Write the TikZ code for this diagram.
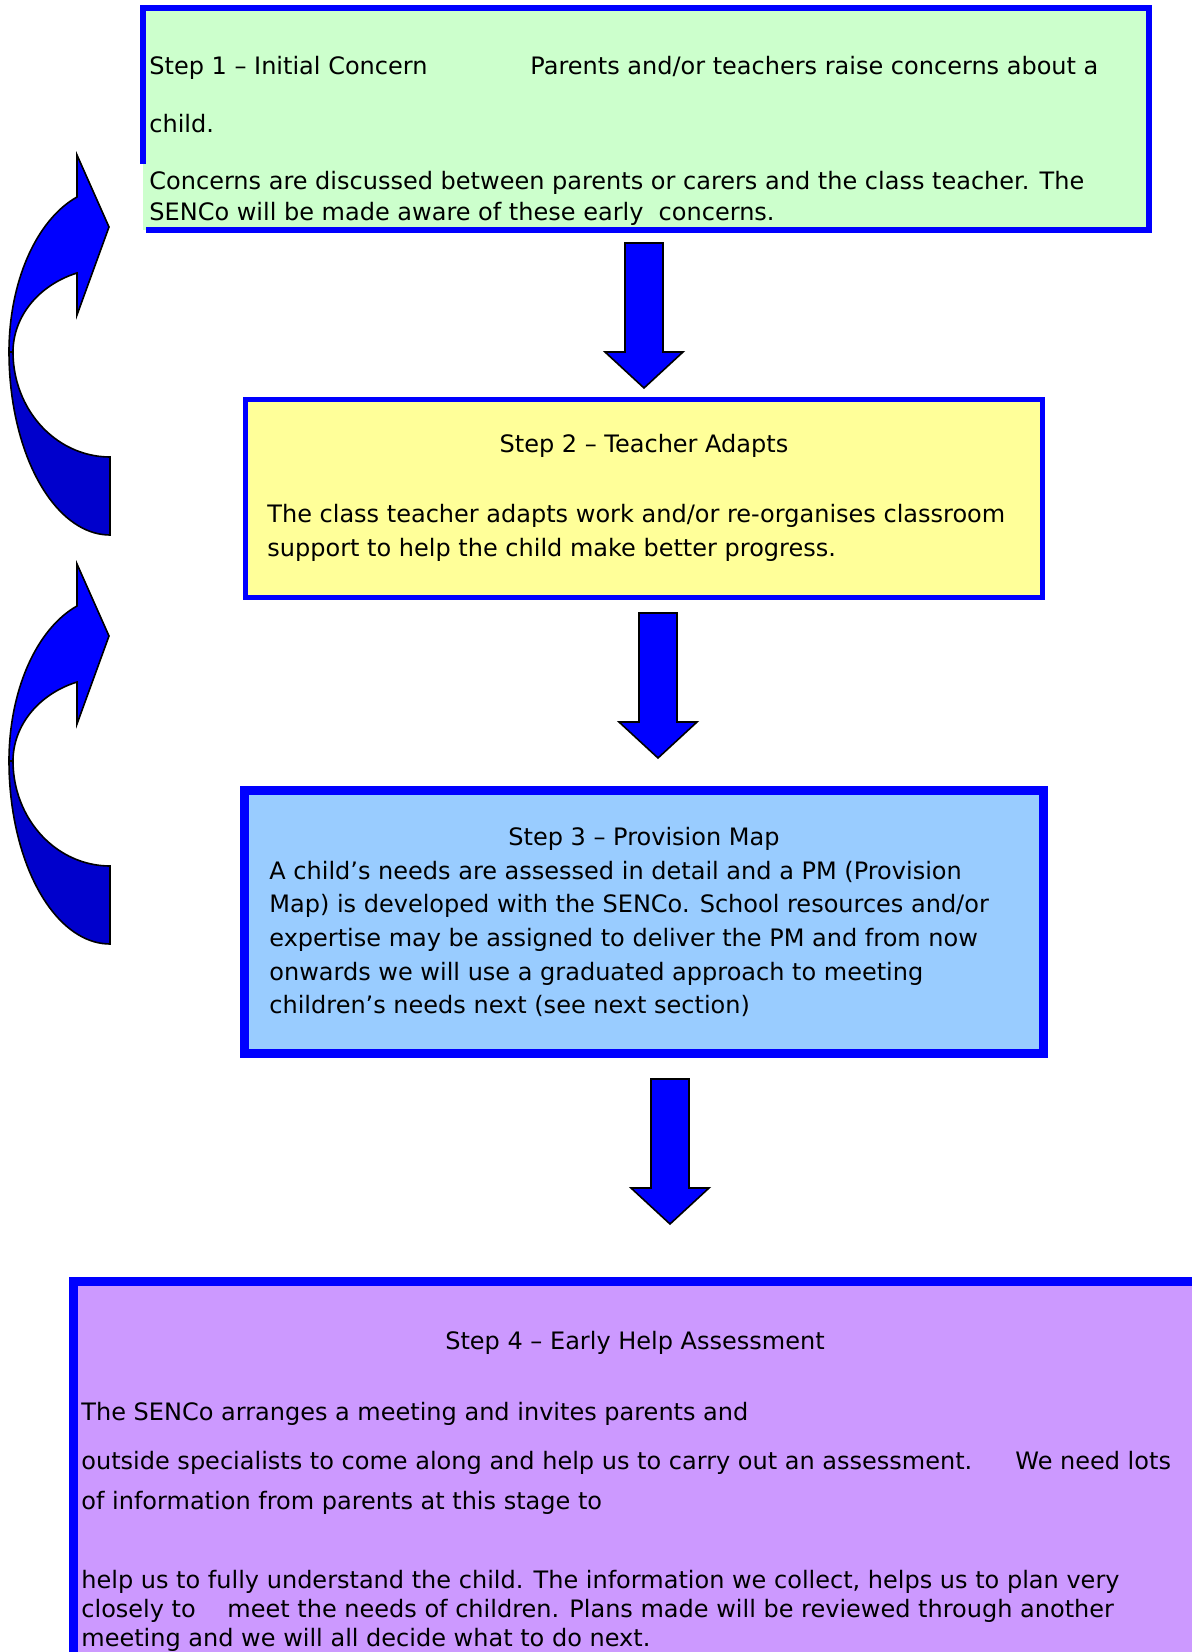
\documentclass[tikz,border=0pt]{standalone}
\usepackage{fontspec}
\setmainfont{DejaVu Sans}
\usepackage{xcolor}
\usetikzlibrary{calc}

\definecolor{edgeblue}{HTML}{0000FF}
\definecolor{darkblue}{HTML}{0000CC}
\definecolor{stepgreen}{HTML}{CCFFCC}
\definecolor{stepyellow}{HTML}{FFFF99}
\definecolor{stepblue}{HTML}{99CCFF}
\definecolor{steppurple}{HTML}{CC99FF}

\tikzset{
  pics/downblock/.style={code={
    \draw[blockarrow] (-19,0) -- (19,0) -- (19,109) -- (39,109) -- (0,145)
      -- (-39,109) -- (-19,109) -- cycle;
  }},
  pics/loopback/.style={code={
    % back band
    \draw[blockarrow, fill=darkblue] (110,457)
      -- plot[domain=90:180, samples=40, variable=\t] ({110+97*cos(\t)},{352+105*sin(\t)})
      -- (9,352)
      -- plot[domain=180:90, samples=40, variable=\t] ({110+101*cos(\t)},{352+183*sin(\t)})
      -- cycle;
    % front band with head
    \draw[blockarrow] (77,197)
      -- plot[domain=250.9:180, samples=40, variable=\t] ({110+101*cos(\t)},{352+164*sin(\t)})
      -- (13,352)
      -- plot[domain=180:250.1, samples=40, variable=\t] ({110+97*cos(\t)},{352+84*sin(\t)})
      -- (77,315) -- (109,227) -- (77,155) -- cycle;
  }}
}

\begin{document}
\begin{tikzpicture}[x=0.5pt, y=-0.5pt,
  stepbox/.style={rectangle, inner sep=0, outer sep=0},
  blockarrow/.style={draw=black, line width=0.8pt, fill=edgeblue, line join=miter},
  txt/.style={anchor=base west, inner sep=0, font=\fontsize{12}{14}\selectfont},
  title/.style={txt, anchor=base}]
\useasboundingbox (0,0) rectangle (1192,1652);
\clip (0,0) rectangle (1192,1652);

% boxes
\node[stepbox, fill=stepgreen, minimum width=503pt, minimum height=111pt] (s1) at (646,119) {};
\draw[edgeblue, line width=3pt] ($(s1.north west)+(0,156)$) -- (s1.north west) -- (s1.north east)
  -- (s1.south east) -- ($(s1.south west)+(3,0)$);
\node[stepbox, fill=stepyellow, draw=edgeblue, line width=2.5pt, minimum width=398.5pt, minimum height=99pt] (s2) at (644,498.5) {};
\node[stepbox, fill=stepblue, draw=edgeblue, line width=4.5pt, minimum width=399.5pt, minimum height=131.5pt] (s3) at (644,922) {};
\node[stepbox, fill=steppurple, draw=edgeblue, line width=4.5pt, minimum width=613.25pt, minimum height=209.25pt] (s4) at (686.75,1490.75) {};

% arrows
\pic (a1) at (644,243) {downblock};
\pic (a2) at (658,613) {downblock};
\pic (a3) at (670,1079) {downblock};
\pic (b1) at (0,0) {loopback};
\pic (b2) at (0,409) {loopback};

% step 1
\node[txt] (t1a) at (149,75) {Step 1 – Initial Concern};
\node[txt] (t1b) at (530,75) {Parents and/or teachers raise concerns about a};
\node[txt] (t1c) at (149,133) {child.};
\node[txt] (t1d) at (149,190) {Concerns are discussed between parents or carers and the class teacher. The};
\node[txt] (t1e) at (149,221) {SENCo will be made aware of these early\ \ concerns.};

% step 2
\node[title] (t2a) at (644,452) {Step 2 – Teacher Adapts};
\node[txt] (t2b) at (267,522) {The class teacher adapts work and/or re-organises classroom};
\node[txt] (t2c) at (267,556) {support to help the child make better progress.};

% step 3
\node[title] (t3a) at (644,845) {Step 3 – Provision Map};
\node[txt] (t3b) at (269,879) {A child’s needs are assessed in detail and a PM (Provision};
\node[txt] (t3c) at (269,912) {Map) is developed with the SENCo. School resources and/or};
\node[txt] (t3d) at (269,946) {expertise may be assigned to deliver the PM and from now};
\node[txt] (t3e) at (269,980) {onwards we will use a graduated approach to meeting};
\node[txt] (t3f) at (269,1013) {children’s needs next (see next section)};

% step 4
\node[title] (t4a) at (635,1349) {Step 4 – Early Help Assessment};
\node[txt] (t4b) at (81,1420) {The SENCo arranges a meeting and invites parents and};
\node[txt] (t4c) at (81,1469) {outside specialists to come along and help us to carry out an assessment.};
\node[txt] (t4d) at (1015,1469) {We need lots};
\node[txt] (t4e) at (81,1509) {of information from parents at this stage to};
\node[txt] (t4f) at (81,1588) {help us to fully understand the child. The information we collect, helps us to plan very};
\node[txt] (t4g) at (81,1617) {closely to\quad\ meet the needs of children. Plans made will be reviewed through another};
\node[txt] (t4h) at (81,1646) {meeting and we will all decide what to do next.};
\end{tikzpicture}
\end{document}
